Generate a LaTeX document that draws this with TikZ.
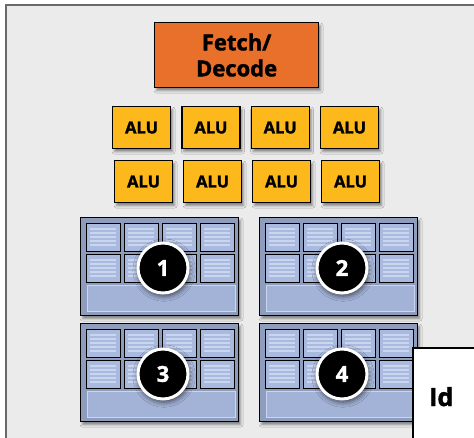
\documentclass[tikz,border=0pt]{standalone}
\usepackage{fontspec}
\setmainfont{Open Sans}[BoldFeatures={FakeBold=1.6}]
\usetikzlibrary{shadows.blur}

\definecolor{arancio}{HTML}{E8702A}
\definecolor{giallo}{HTML}{FDB81B}
\definecolor{fondo}{HTML}{EBEBEB}
\definecolor{bordo}{HTML}{6A6A6A}
\definecolor{blocco}{HTML}{8F9DBD}
\definecolor{cellac}{HTML}{A9BADE}
\definecolor{righe}{HTML}{CAD6EF}
\definecolor{barra}{HTML}{A3B3D7}

\begin{document}
\begin{tikzpicture}[
			x=1pt, y=-1pt,
			ombra/.style={blur shadow={shadow xshift=2pt, shadow yshift=-3pt,
				shadow blur radius=2.5pt, shadow opacity=45}},
			decodifica/.style={draw=black, line width=1.2pt, fill=arancio, ombra,
				font=\bfseries\fontsize{22}{26}\selectfont, align=center,
				minimum width=164pt, minimum height=65pt, inner sep=0pt},
			alu/.style={draw=black, line width=1.2pt, fill=giallo, ombra,
				font=\bfseries\fontsize{16.5}{18}\selectfont,
				minimum width=58pt, minimum height=42pt, inner sep=0pt},
			nucleo/.style={draw=black, line width=1.2pt, fill=blocco, ombra,
				minimum width=158pt, minimum height=98pt, inner sep=0pt},
			cella/.style={draw=black, line width=1.1pt, fill=cellac,
				minimum width=34pt, minimum height=28pt, inner sep=0pt},
			riga/.style={righe, line width=1.2pt},
			barraB/.style={draw=righe, line width=1pt, fill=barra,
				minimum width=148pt, minimum height=26pt, inner sep=0pt},
			numero/.style={circle, draw=white, line width=3pt, fill=black,
				text=white, font=\bfseries\fontsize{22}{24}\selectfont,
				minimum size=50pt, inner sep=0pt,
				blur shadow={shadow xshift=1pt, shadow yshift=-2pt,
					shadow blur radius=5pt, shadow scale=1.04, shadow opacity=65}}]

			%% --- cornice e sfondo grigio ---
			\clip (0,0) rectangle (474,437);
			\fill[white] (0,0) rectangle (474,437);
			\draw[bordo, fill=fondo, line width=1.6pt] (6,5) rectangle (490,450);

			%% --- unita' di fetch/decode ---
			\node[decodifica, anchor=north west] (fetch) at (154,22) {Fetch/\\Decode};

			%% --- due file di ALU ---
			\foreach \i in {0,...,3}{
				\pgfmathsetmacro{\xa}{112+\i*69.3}
				\pgfmathsetmacro{\xb}{114+\i*69}
				\node[alu, anchor=north west] (aluA\i) at (\xa,106) {ALU};
				\node[alu, anchor=north west] (aluB\i) at (\xb,160) {ALU};
			}

			%% --- quattro blocchi di contesto con celle e numero ---
			\foreach \k/\xo/\yo in {1/80/217, 2/259/217, 3/80/323, 4/259/323}{
				\node[nucleo, anchor=north west] (nucleo\k) at (\xo,\yo) {};
				\foreach \c in {0,...,3}{
					\foreach \r in {0,1}{
						\pgfmathsetmacro{\xc}{\xo+6+\c*38}
						\pgfmathsetmacro{\yc}{\yo+6+\r*31}
						\node[cella, anchor=north west] (cella\k\c\r) at (\xc,\yc) {};
						\foreach \s in {6,10,14,18,22}
							\draw[riga] (\xc+4,\yc+\s) -- (\xc+30,\yc+\s);
					}
				}
				\node[barraB, anchor=north west] (barra\k) at (\xo+7,\yo+68) {};
				\node[numero] (num\k) at (\xo+83,\yo+51) {\k};
			}

			%% --- riquadro bianco in basso a destra ---
			\draw[black, fill=white, line width=1.6pt] (413,348) rectangle (490,450);
			\node[font=\bfseries\fontsize{25}{28}\selectfont, anchor=base west,
				inner sep=0pt] (idea) at (429,406) {Id};

		\end{tikzpicture}
\end{document}
